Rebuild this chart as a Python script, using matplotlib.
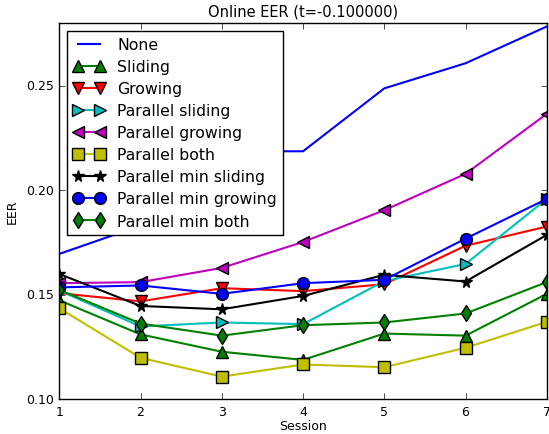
import numpy as np
import matplotlib
matplotlib.use('Agg')
import matplotlib.pyplot as plt

plt.style.use('classic')

sessions = [1, 2, 3, 4, 5, 6, 7]

# EER por sesion
none_eer = [0.1695, 0.183, 0.2186, 0.2186, 0.2487, 0.2607, 0.2783]
sliding = [0.1473, 0.1310, 0.1227, 0.1188, 0.1314, 0.1304, 0.1504]
growing = [0.1507, 0.1468, 0.1531, 0.1517, 0.1550, 0.1734, 0.1826]
par_sliding = [0.1520, 0.1348, 0.1367, 0.1359, 0.1565, 0.1647, 0.1958]
par_growing = [0.1555, 0.1560, 0.1628, 0.1752, 0.1904, 0.2078, 0.2365]
par_both = [0.1435, 0.1198, 0.1108, 0.1166, 0.1153, 0.1246, 0.1370]
min_sliding = [0.1599, 0.1446, 0.1430, 0.1494, 0.1595, 0.1563, 0.1786]
min_growing = [0.1535, 0.1544, 0.1504, 0.1555, 0.1571, 0.1768, 0.1958]
min_both = [0.1523, 0.1362, 0.1304, 0.1354, 0.1367, 0.1410, 0.1560]

series = [
    ('None', none_eer, 'b', None),
    ('Sliding', sliding, 'g', '^'),
    ('Growing', growing, 'r', 'v'),
    ('Parallel sliding', par_sliding, 'c', '>'),
    ('Parallel growing', par_growing, 'm', '<'),
    ('Parallel both', par_both, 'y', 's'),
    ('Parallel min sliding', min_sliding, 'k', '*'),
    ('Parallel min growing', min_growing, 'b', 'o'),
    ('Parallel min both', min_both, 'g', 'd'),
]

fig = plt.figure(figsize=(5.49, 4.35), dpi=100, facecolor='white')
ax = fig.add_axes([0.108, 0.080, 0.888, 0.865])

for nombre, vals, col, mk in series:
    ax.plot(sessions, vals, color=col, marker=mk, markersize=8.5,
            markeredgewidth=1.0, linewidth=1.5, label=nombre)

ax.set_xlim(1, 7)
ax.set_ylim(0.10, 0.28)
ax.set_yticks([0.10, 0.15, 0.20, 0.25])
ax.set_yticklabels(['0.10', '0.15', '0.20', '0.25'])
ax.tick_params(labelsize=9)
ax.set_xlabel('Session', fontsize=9, labelpad=1)
ax.set_ylabel('EER', fontsize=9)
ax.set_title('Online EER (t=-0.100000)', fontsize=10.5)

leg = ax.legend(loc='upper left', fontsize=11.3, numpoints=2,
                borderaxespad=0.5, handlelength=2.0, labelspacing=0.45)
leg.get_frame().set_linewidth(1.0)

fig.savefig('out.png', dpi=100, facecolor='white')
